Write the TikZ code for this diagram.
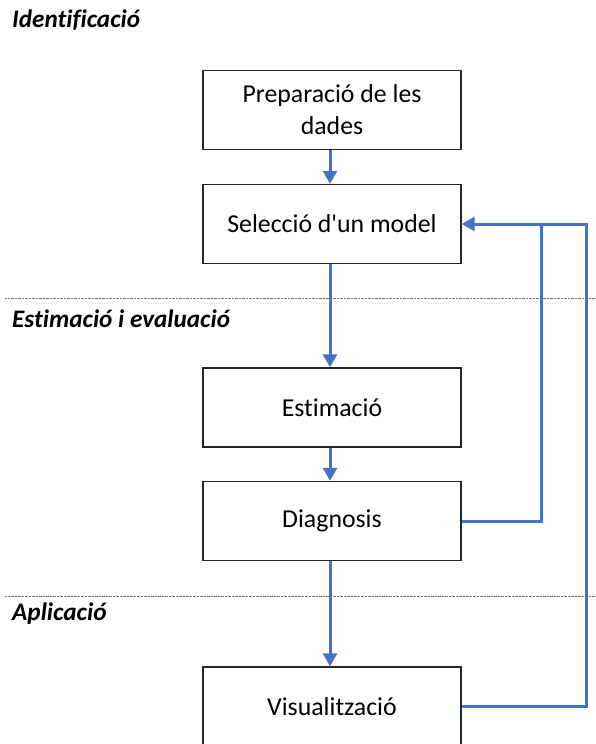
\documentclass[tikz,border=0pt]{standalone}
\usepackage{fontspec}
\setmainfont{Carlito}[Ligatures={NoCommon}]
\usetikzlibrary{arrows.meta}
\definecolor{lineblue}{HTML}{4472C4}
\tikzset{
  stage/.style={draw=black!85, line width=1.4pt, minimum width=258pt, minimum height=79pt, inner sep=0pt, align=center, font=\fontsize{25.8}{32}\selectfont},
  flow/.style={draw=lineblue, line width=3pt, -{Triangle[length=13pt,width=14pt]}},
  back/.style={draw=lineblue, line width=3pt},
  phase/.style={anchor=west, inner sep=0pt, font=\fontsize{25.2}{28}\selectfont\bfseries\itshape},
  divider/.style={draw=black!55, line width=0.9pt, dash pattern=on 0.8pt off 0.6pt}
}
\begin{document}
\begin{tikzpicture}[x=1pt,y=-1pt]
\useasboundingbox (0,0) rectangle (595,744);
\node[phase] (l1) at (12,20) {Identificació};
\node[phase] (l2) at (12,319) {Estimació i evaluació};
\node[phase] (l3) at (12,614) {Aplicació};
\coordinate (d1a) at (5,298.5); \coordinate (d1b) at (595,298.5);
\coordinate (d2a) at (5,596); \coordinate (d2b) at (595,596);
\draw[divider] (d1a) -- (d1b);
\draw[divider] (d2a) -- (d2b);
\node[stage] (prep) at (332,110) {Preparació de les\\dades};
\node[stage] (sel) at (332,224) {Selecció d\textquotesingle un model};
\node[stage] (est) at (332,407.5) {Estimació};
\node[stage] (diag) at (332,521) {Diagnosis};
\node[stage] (vis) at (332,706.5) {Visualització};
\draw[flow] (prep.south -| 330,0) -- (sel.north -| 330,0);
\draw[flow] (sel.south -| 330,0) -- (est.north -| 330,0);
\draw[flow] (est.south -| 330,0) -- (diag.north -| 330,0);
\draw[flow] (diag.south -| 330,0) -- (vis.north -| 330,0);
\coordinate (j1) at (541.5,224);
\coordinate (j2) at (586,224);
\draw[back] (diag.east) -| (j1);
\draw[back] (vis.east) -| (j2) -- (j1);
\draw[flow] (j1) -- (sel.east);
\end{tikzpicture}
\end{document}
